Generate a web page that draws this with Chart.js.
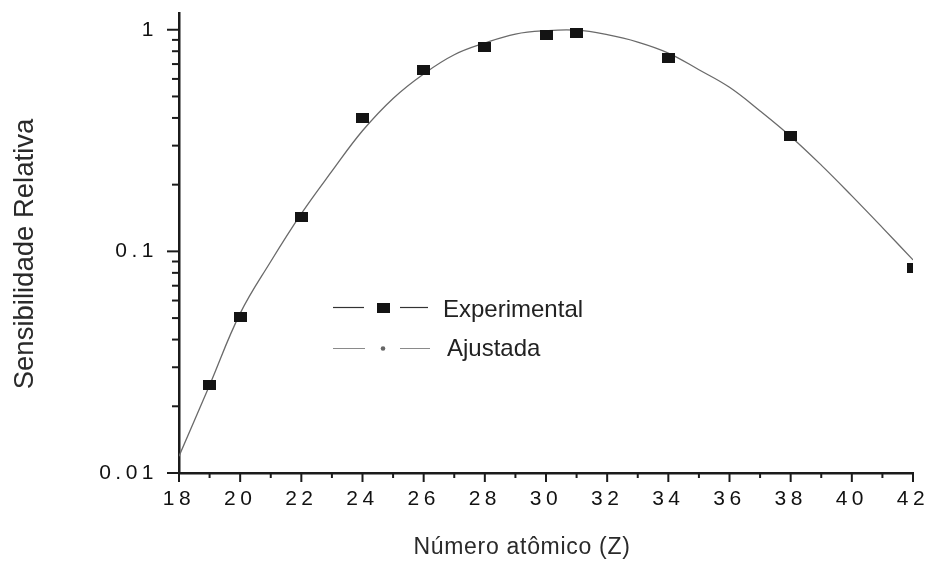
<!DOCTYPE html>
<html>
<head>
<meta charset="utf-8">
<script src="https://cdn.jsdelivr.net/npm/chart.js@4.4.1/dist/chart.umd.min.js"></script>
<style>
  html, body { margin: 0; padding: 0; background: #fff; }
  #wrap { width: 932px; height: 563px; }
</style>
</head>
<body>
<div id="wrap"><canvas id="c" width="932" height="563"></canvas></div>
<script>
// Measured relative sensitivity per atomic number
const zExperimental = [19, 20, 22, 24, 26, 28, 30, 31, 34, 38, 42];
const sensExperimental = [0.0249, 0.0505, 0.1426, 0.399, 0.655, 0.832, 0.943, 0.966, 0.745, 0.332, 0.084];

// Fitted curve
const zFit = [18, 19, 20, 21, 22, 23, 24, 25, 26, 27, 28, 29, 30, 31, 32, 33, 34, 35, 36, 37, 38, 39, 40, 41, 42];
const sensFit = [0.0119, 0.0249, 0.0525, 0.09, 0.148, 0.23, 0.35, 0.49, 0.632, 0.771, 0.871, 0.956, 0.99, 0.995, 0.95, 0.88, 0.785, 0.66, 0.55, 0.43, 0.33, 0.245, 0.178, 0.128, 0.0915];

// Axis ticks
const xMajorTicks = [18, 20, 22, 24, 26, 28, 30, 32, 34, 36, 38, 40, 42];
const xMinorTicks = [19, 21, 23, 25, 27, 29, 31, 33, 35, 37, 39, 41];
const yMajorTicks = [0.01, 0.1, 1];
const yMajorLabels = ['0.01', '0.1', '1'];
const yMinorTicks = [0.02, 0.03, 0.04, 0.05, 0.06, 0.07, 0.08, 0.09, 0.2, 0.3, 0.4, 0.5, 0.6, 0.7, 0.8, 0.9];

const FONT = '"Liberation Sans", Arial, Helvetica, sans-serif';
const INK = '#1b1b1b';

// Filled rectangle marker for the measured points
const squareMarker = document.createElement('canvas');
squareMarker.width = 13;
squareMarker.height = 10;
(function () {
  const g = squareMarker.getContext('2d');
  g.fillStyle = '#141414';
  g.fillRect(0, 0, 13, 10);
})();

// keep the plot area fixed: no extra room for overhanging tick labels
function fixBox(scale, prop, size) {
  scale[prop] = size;
  scale.paddingTop = 0;
  scale.paddingBottom = 0;
  scale.paddingLeft = 0;
  scale.paddingRight = 0;
}

const decor = {
  id: 'decor',
  beforeDraw(chart) {
    const ctx = chart.ctx;
    ctx.save();
    ctx.fillStyle = '#ffffff';
    ctx.fillRect(0, 0, chart.width, chart.height);
    ctx.restore();
    // wide spacing for the numeric tick labels
    ctx.letterSpacing = '4.5px';
  },
  afterDraw(chart) {
    const ctx = chart.ctx;
    const xs = chart.scales.x;
    const ys = chart.scales.y;
    const area = chart.chartArea;
    ctx.save();
    ctx.letterSpacing = '0px';

    // tick marks (outside the axes)
    ctx.strokeStyle = INK;
    ctx.lineWidth = 2;
    ctx.lineCap = 'butt';
    const seg = (x1, y1, x2, y2) => { ctx.beginPath(); ctx.moveTo(x1, y1); ctx.lineTo(x2, y2); ctx.stroke(); };
    yMajorTicks.forEach(v => { const p = ys.getPixelForValue(v); seg(area.left - 12, p, area.left, p); });
    yMinorTicks.forEach(v => { const p = ys.getPixelForValue(v); seg(area.left - 7, p, area.left, p); });
    xMajorTicks.forEach(v => { const p = xs.getPixelForValue(v); seg(p, area.bottom, p, area.bottom + 9); });
    xMinorTicks.forEach(v => { const p = xs.getPixelForValue(v); seg(p, area.bottom, p, area.bottom + 5); });

    // axis titles
    ctx.fillStyle = '#2a2a2a';
    ctx.font = '23px ' + FONT;
    ctx.letterSpacing = '0.7px';
    ctx.textAlign = 'center';
    ctx.textBaseline = 'alphabetic';
    ctx.fillText('Número atômico (Z)', 522, 554);

    ctx.save();
    ctx.letterSpacing = '0px';
    ctx.translate(33, 254);
    ctx.rotate(-Math.PI / 2);
    ctx.font = '27.5px ' + FONT;
    ctx.fillText('Sensibilidade Relativa', 0, 0);
    ctx.restore();

    // legend
    ctx.letterSpacing = '0px';
    ctx.textAlign = 'left';
    ctx.font = '24px ' + FONT;
    // Experimental row
    ctx.strokeStyle = '#333';
    ctx.lineWidth = 1.2;
    seg(333, 307.5, 364, 307.5);
    seg(400, 307.5, 428, 307.5);
    ctx.fillStyle = '#141414';
    ctx.fillRect(377, 303, 13, 10);
    ctx.fillStyle = '#222';
    ctx.fillText('Experimental', 443, 317);
    // Fitted row
    ctx.strokeStyle = '#8a8a8a';
    ctx.lineWidth = 1;
    seg(333, 348.5, 365, 348.5);
    seg(400, 348.5, 430, 348.5);
    ctx.fillStyle = '#666';
    ctx.beginPath();
    ctx.arc(383, 348.5, 2.3, 0, Math.PI * 2);
    ctx.fill();
    ctx.fillStyle = '#222';
    ctx.fillText('Ajustada', 447, 356);

    ctx.restore();
  }
};

new Chart(document.getElementById('c'), {
  type: 'line',
  data: {
    datasets: [
      {
        label: 'Experimental',
        data: zExperimental.map((z, i) => ({ x: z, y: sensExperimental[i] })),
        showLine: false,
        pointStyle: squareMarker,
        pointRadius: 6,
        order: 0
      },
      {
        label: 'Ajustada',
        data: zFit.map((z, i) => ({ x: z, y: sensFit[i] })),
        borderColor: '#6a6a6a',
        borderWidth: 1.3,
        pointRadius: 0,
        tension: 0.4,
        fill: false,
        order: 1
      }
    ]
  },
  options: {
    responsive: false,
    animation: false,
    devicePixelRatio: 1,
    layout: { padding: { top: 13, right: 19, left: 0, bottom: 0 } },
    plugins: {
      legend: { display: false },
      tooltip: { enabled: false },
      title: { display: false }
    },
    scales: {
      x: {
        type: 'linear',
        min: 18,
        max: 42,
        afterFit(scale) { fixBox(scale, 'height', 90); },
        afterBuildTicks(scale) { scale.ticks = xMajorTicks.map(v => ({ value: v })); },
        grid: { display: false, drawTicks: false },
        border: { display: true, color: INK, width: 2.5 },
        ticks: {
          autoSkip: false,
          maxRotation: 0,
          padding: 14,
          color: '#111',
          font: { family: FONT, size: 21 },
          callback: v => String(v)
        },
        title: { display: false }
      },
      y: {
        type: 'logarithmic',
        min: 0.01,
        max: 1.19,
        afterFit(scale) { fixBox(scale, 'width', 179); },
        afterBuildTicks(scale) { scale.ticks = yMajorTicks.map(v => ({ value: v })); },
        grid: { display: false, drawTicks: false },
        border: { display: true, color: INK, width: 2.5 },
        ticks: {
          autoSkip: false,
          padding: 21,
          color: '#111',
          font: { family: FONT, size: 21 },
          callback: v => {
            const i = yMajorTicks.indexOf(v);
            return i >= 0 ? yMajorLabels[i] : '';
          }
        },
        title: { display: false }
      }
    }
  },
  plugins: [decor]
});
</script>
</body>
</html>
